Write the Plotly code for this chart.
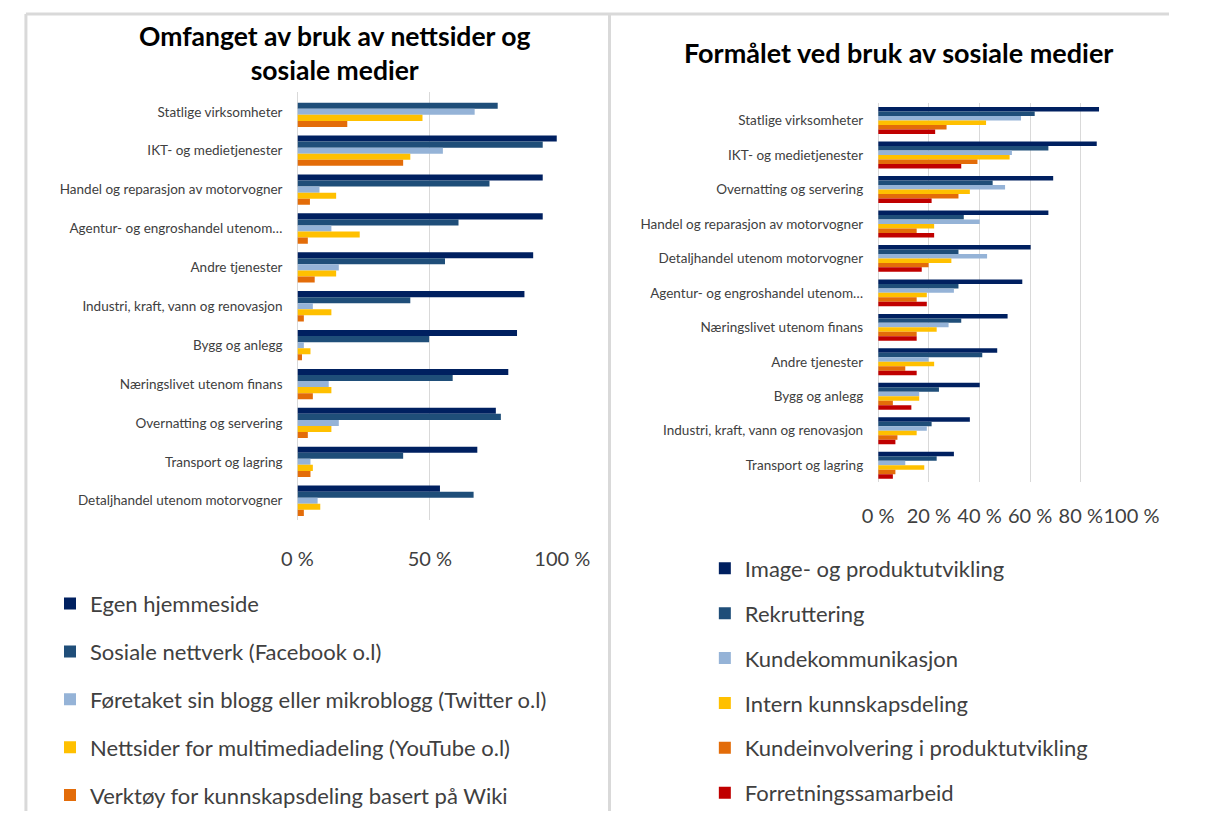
import plotly.graph_objects as go

# ---------------- Data ----------------
left_categories = [
    "Statlige virksomheter",
    "IKT- og medietjenester",
    "Handel og reparasjon av motorvogner",
    "Agentur- og engroshandel utenom…",
    "Andre tjenester",
    "Industri, kraft, vann og renovasjon",
    "Bygg og anlegg",
    "Næringslivet utenom finans",
    "Overnatting og servering",
    "Transport og lagring",
    "Detaljhandel utenom motorvogner",
]
left_series_names = [
    "Egen hjemmeside",
    "Sosiale nettverk (Facebook o.l)",
    "Føretaket sin blogg eller mikroblogg (Twitter o.l)",
    "Nettsider for multimediadeling (YouTube o.l)",
    "Verktøy for kunnskapsdeling basert på Wiki",
]
egen_hjemmeside = [None, 97.9, 92.6, 92.6, 89.0, 85.7, 82.9, 79.6, 74.9, 67.9, 53.8]
sosiale_nettverk = [75.6, 92.6, 72.5, 60.8, 55.7, 42.6, 49.7, 58.6, 76.8, 39.9, 66.5]
blogg = [66.9, 54.9, 8.3, 12.8, 15.6, 5.8, 2.4, 11.8, 15.6, 4.9, 7.6]
multimedia = [47.2, 42.6, 14.6, 23.5, 14.6, 12.8, 4.9, 12.8, 12.8, 5.8, 8.6]
wiki = [18.8, 39.9, 4.7, 3.9, 6.5, 2.4, 1.7, 5.8, 3.9, 4.9, 2.4]
left_values = [egen_hjemmeside, sosiale_nettverk, blogg, multimedia, wiki]

right_categories = [
    "Statlige virksomheter",
    "IKT- og medietjenester",
    "Overnatting og servering",
    "Handel og reparasjon av motorvogner",
    "Detaljhandel utenom motorvogner",
    "Agentur- og engroshandel utenom…",
    "Næringslivet utenom finans",
    "Andre tjenester",
    "Bygg og anlegg",
    "Industri, kraft, vann og renovasjon",
    "Transport og lagring",
]
right_series_names = [
    "Image- og produktutvikling",
    "Rekruttering",
    "Kundekommunikasjon",
    "Intern kunnskapsdeling",
    "Kundeinvolvering i produktutvikling",
    "Forretningssamarbeid",
]
image_produkt = [87.2, 86.3, 69.1, 67.2, 60.2, 56.9, 51.1, 47.0, 40.1, 36.2, 29.9]
rekruttering = [61.8, 67.2, 45.2, 33.8, 31.7, 31.7, 32.8, 41.1, 24.0, 21.1, 23.1]
kundekommunikasjon = [56.4, 52.8, 50.1, 40.1, 43.0, 29.9, 27.8, 19.9, 16.2, 19.2, 10.7]
intern_kunnskap = [42.6, 51.9, 36.2, 22.1, 28.9, 19.2, 23.1, 22.1, 16.2, 15.2, 18.2]
kundeinvolvering = [27.0, 39.2, 31.7, 15.2, 19.9, 15.2, 15.2, 10.7, 5.8, 7.6, 6.8]
forretning = [22.5, 32.8, 21.1, 22.1, 17.2, 19.2, 15.2, 15.2, 13.1, 6.8, 5.8]
right_values = [image_produkt, rekruttering, kundekommunikasjon, intern_kunnskap,
                kundeinvolvering, forretning]

left_tickvals = [0, 50, 100]
left_ticktext = ["0 %", "50 %", "100 %"]
right_tickvals = [0, 20, 40, 60, 80, 100]
right_ticktext = ["0 %", "20 %", "40 %", "60 %", "80 %", "100 %"]

left_colors = ["#002060", "#1F4E79", "#95B3D7", "#FFC000", "#E36C09"]
right_colors = ["#002060", "#1F4E79", "#95B3D7", "#FFC000", "#E36C09", "#C00000"]

FONT = "Lato"
PAGE_MARGIN = 8          # default body margin of the html page
FW, FH = 1205 - 2 * PAGE_MARGIN, 825 - 2 * PAGE_MARGIN

fig = go.Figure()

for name, vals, col in zip(left_series_names, left_values, left_colors):
    fig.add_trace(go.Bar(
        y=left_categories, x=vals, name=name, orientation="h",
        marker=dict(color=col, line=dict(width=0)),
        xaxis="x", yaxis="y", legend="legend", legendgroup="L" + name,
        hovertemplate="%{y}: %{x:.0f} %<extra>" + name + "</extra>",
    ))

for name, vals, col in zip(right_series_names, right_values, right_colors):
    fig.add_trace(go.Bar(
        y=right_categories, x=vals, name=name, orientation="h",
        marker=dict(color=col, line=dict(width=0)),
        xaxis="x2", yaxis="y2", legend="legend2", legendgroup="R" + name,
        hovertemplate="%{y}: %{x:.0f} %<extra>" + name + "</extra>",
    ))


def px_x(v):
    return (v - PAGE_MARGIN) / FW


def px_y(v):
    return 1 - (v - PAGE_MARGIN) / FH


grid_col = "#D9D9D9"
axis_x_common = dict(
    showgrid=True, gridcolor=grid_col, gridwidth=1,
    zeroline=True, zerolinecolor=grid_col, zerolinewidth=1,
    showline=False, ticks="outside", tickcolor="rgba(0,0,0,0)",
    tickfont=dict(family=FONT, size=20, color="#404040"), tickangle=0,
    fixedrange=True,
)
axis_y_common = dict(
    autorange="reversed", showgrid=False, zeroline=False, showline=False,
    ticks="", tickfont=dict(family=FONT, size=13.5, color="#404040"),
    ticklabelstandoff=14, fixedrange=True,
)

shapes = [
    dict(type="line", xref="paper", yref="paper",
         x0=px_x(10), x1=1.0, y0=px_y(14), y1=px_y(14),
         line=dict(color=grid_col, width=3)),
    dict(type="line", xref="paper", yref="paper",
         x0=px_x(10), x1=px_x(10), y0=px_y(14), y1=0,
         line=dict(color=grid_col, width=3)),
    dict(type="line", xref="paper", yref="paper",
         x0=px_x(616), x1=px_x(616), y0=px_y(14), y1=0,
         line=dict(color=grid_col, width=3)),
]
annotations = [
    dict(text="<b>Omfanget av bruk av nettsider og<br>sosiale medier</b>",
         x=px_x(330), y=px_y(53), xref="paper", yref="paper",
         xanchor="center", yanchor="middle", showarrow=False,
         font=dict(family=FONT, size=26.5, color="#000000"), align="center"),
    dict(text="<b>Formålet ved bruk av sosiale medier</b>",
         x=px_x(916), y=px_y(53), xref="paper", yref="paper",
         xanchor="center", yanchor="middle", showarrow=False,
         font=dict(family=FONT, size=27, color="#000000")),
]

fig.update_layout(
    width=FW, height=FH,
    margin=dict(l=0, r=0, t=0, b=0),
    paper_bgcolor="white", plot_bgcolor="white",
    barmode="group", bargap=0.22, bargroupgap=0,
    xaxis=dict(domain=[px_x(292), px_x(567)], range=[0, 100], anchor="y",
               tickvals=left_tickvals, ticktext=left_ticktext, ticklen=21,
               **axis_x_common),
    yaxis=dict(domain=[px_y(524), px_y(93)], anchor="x", **axis_y_common),
    xaxis2=dict(domain=[px_x(895), px_x(1158)], range=[0, 100], anchor="y2",
                tickvals=right_tickvals, ticktext=right_ticktext, ticklen=16,
                **axis_x_common),
    yaxis2=dict(domain=[px_y(486), px_y(104)], anchor="x2", **axis_y_common),
    legend=dict(x=px_x(35), y=px_y(587), xanchor="left", yanchor="top",
                font=dict(family=FONT, size=22, color="#404040"),
                traceorder="grouped", tracegroupgap=16.3, itemwidth=30,
                bgcolor="rgba(0,0,0,0)"),
    legend2=dict(x=px_x(715), y=px_y(551.5), xanchor="left", yanchor="top",
                 font=dict(family=FONT, size=22, color="#404040"),
                 traceorder="grouped", tracegroupgap=13.3, itemwidth=30,
                 bgcolor="rgba(0,0,0,0)"),
    showlegend=True,
    annotations=annotations,
    shapes=shapes,
)

fig.write_html("out.html")
